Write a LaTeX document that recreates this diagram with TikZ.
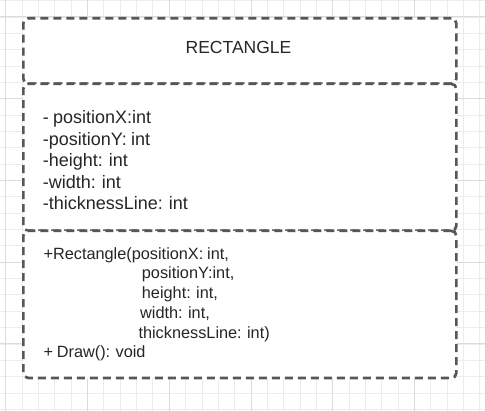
\documentclass[tikz,border=0pt]{standalone}
\usepackage{fontspec}
\setmainfont[WordSpace=0.85]{Liberation Sans}
\definecolor{boxgray}{HTML}{575757}
\definecolor{gridminor}{HTML}{ECECEC}
\definecolor{gridmajor}{HTML}{DCDCDC}
\definecolor{txt}{HTML}{262626}
\begin{document}
\begin{tikzpicture}[x=1pt,y=-1pt,
  umlbox/.style={draw=boxgray, line width=2.7pt, dash pattern=on 8pt off 5pt,
    rounded corners=5pt, inner sep=0pt, anchor=north west, minimum width=433pt},
  titletxt/.style={text=txt, inner sep=0pt, anchor=base, font=\fontsize{17.5}{21}\selectfont},
  attrtxt/.style={text=txt, inner sep=0pt, anchor=base west, font=\fontsize{18}{21.5}\selectfont},
  methtxt/.style={text=txt, inner sep=0pt, anchor=base west, font=\fontsize{16.3}{19.7}\selectfont}]
\useasboundingbox[fill=white] (0,0) rectangle (485,411);
% grid
\foreach \k in {0,...,29}{
  \pgfmathsetmacro\xx{5.7+16.35*\k}
  \draw[gridminor, line width=0.8pt] (\xx,0) -- (\xx,411);}
\foreach \k in {0,...,25}{
  \pgfmathsetmacro\yy{0.6+16.35*\k}
  \draw[gridminor, line width=0.8pt] (0,\yy) -- (485,\yy);}
\foreach \k in {0,5,...,25}{
  \pgfmathsetmacro\xx{5.7+16.35*\k}
  \draw[gridmajor, line width=0.9pt] (\xx,0) -- (\xx,411);}
\foreach \k in {1,6,...,21}{
  \pgfmathsetmacro\yy{0.6+16.35*\k}
  \draw[gridmajor, line width=0.9pt] (0,\yy) -- (485,\yy);}
% boxes
\node[umlbox, minimum height=65.5pt, fill=white] (titlebox) at (22,17) {};
\node[umlbox, minimum height=147pt, fill=white] (attrbox) at (22,82.5) {};
\node[umlbox, minimum height=147.2pt, fill=white] (methbox) at (22,229.5) {};
% title
\node[titletxt] (title) at (238.5,54) {RECTANGLE};
% attributes
\node[attrtxt] (a1) at (42.7,124) {- positionX:int};
\node[attrtxt] (a2) at (42.7,145.5) {-positionY: int};
\node[attrtxt] (a3) at (42.7,167) {-height: int};
\node[attrtxt] (a4) at (42.7,188.5) {-width: int};
\node[attrtxt] (a5) at (42.7,210) {-thicknessLine: int};
% methods
\node[methtxt] (m1) at (43.3,259.3) {+Rectangle(positionX: int,};
\node[methtxt] (m2) at (141.7,279) {positionY:int,};
\node[methtxt] (m3) at (141.7,298.7) {height: int,};
\node[methtxt] (m4) at (140,318.4) {width: int,};
\node[methtxt] (m5) at (138.3,338.1) {thicknessLine: int)};
\node[methtxt] (m6) at (43.3,357.8) {+ Draw(): void};
\end{tikzpicture}
\end{document}
